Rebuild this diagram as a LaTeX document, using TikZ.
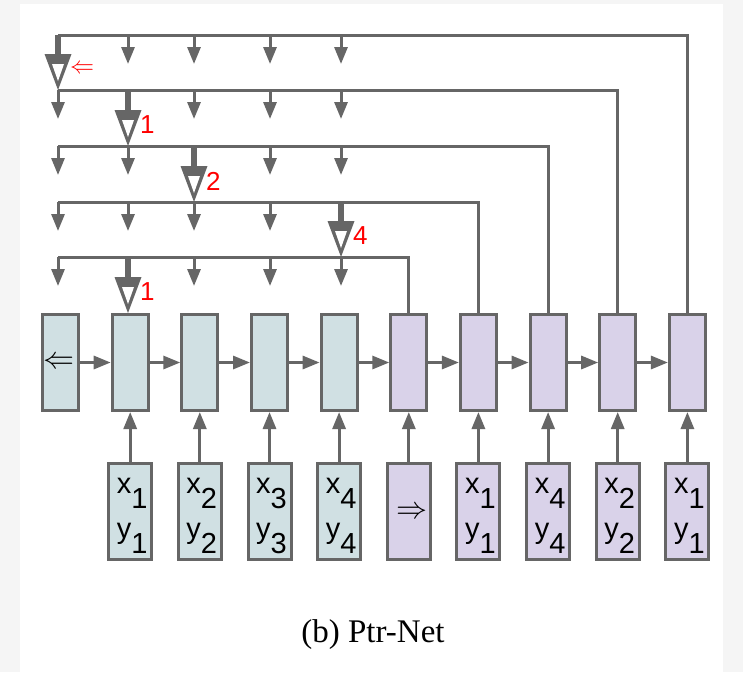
\RequirePackage{fix-cm}
\documentclass[tikz,border=0pt]{standalone}
\usepackage{fontspec}
\setmainfont{Liberation Serif}
\setsansfont{Liberation Sans}
\usetikzlibrary{arrows.meta,calc}

\definecolor{lgray}{HTML}{666666}
\definecolor{encfill}{HTML}{D0E0E3}
\definecolor{decfill}{HTML}{D9D2E9}
\definecolor{bggray}{HTML}{F5F5F5}

% lowered index digit, same size as the letter
\newcommand{\lowered}[1]{\raisebox{-15pt}{#1}}

% thick pointer arrow with a hollow head:
% #1 start coordinate, #2 x, #3 y of the tip, #4 label, #5 label node name
\newcommand{\bigptr}[5]{%
  \draw[line width=6pt, draw=lgray] (#1) -- (#2,{#3-33});
  \fill[lgray] ({#2-13.5},{#3-36}) -- ({#2+13.5},{#3-36}) -- (#2,#3) -- cycle;
  \fill[white] ({#2-6},{#3-26}) -- ({#2+6},{#3-26}) -- (#2,{#3-9}) -- cycle;
  \node[ptrlbl] (#5) at ({#2+12},{#3-21}) {#4};
}

\begin{document}
\begin{tikzpicture}[x=1pt,y=-1pt,
  cell/.style={draw=lgray, line width=3pt, minimum width=36pt, minimum height=96pt, inner sep=0pt},
  enccell/.style={cell, fill=encfill},
  deccell/.style={cell, fill=decfill},
  incell/.style={draw=lgray, line width=3pt, minimum width=43pt, minimum height=96pt, inner sep=0pt},
  encin/.style={incell, fill=encfill},
  decin/.style={incell, fill=decfill},
  wire/.style={draw=lgray, line width=3pt},
  tipped/.style={wire, -{Triangle[length=17pt,width=13pt]}},
  ptrlbl/.style={anchor=west, text=red, font=\sffamily\fontsize{26}{30}\selectfont, inner sep=0pt},
  xylbl/.style={anchor=base, font=\sffamily\fontsize{29}{34}\selectfont, inner sep=0pt},
  glyph/.style={font=\fontsize{31}{36}\selectfont, inner sep=0pt}
]
\useasboundingbox (0,0) rectangle (743,672);
\fill[bggray] (0,0) rectangle (743,672);
\fill[white] (20,4) rectangle (723,672);

% recurrent cells
\node[enccell] (h0) at (60.5,362.5) {};
\node[enccell] (h1) at (130.2,362.5) {};
\node[enccell] (h2) at (199.8,362.5) {};
\node[enccell] (h3) at (269.5,362.5) {};
\node[enccell] (h4) at (339.1,362.5) {};
\node[deccell] (h5) at (408.8,362.5) {};
\node[deccell] (h6) at (478.4,362.5) {};
\node[deccell] (h7) at (548.1,362.5) {};
\node[deccell] (h8) at (617.7,362.5) {};
\node[deccell] (h9) at (687.4,362.5) {};
\node[glyph] (startsym) at ($(h0.center)+(-2,0)$) {$\Leftarrow$};

% input cells
\node[encin] (in1) at (130.2,511.5) {};
\node[encin] (in2) at (199.8,511.5) {};
\node[encin] (in3) at (269.5,511.5) {};
\node[encin] (in4) at (339.1,511.5) {};
\node[decin] (in5) at (408.8,511.5) {};
\node[decin] (in6) at (478.4,511.5) {};
\node[decin] (in7) at (548.1,511.5) {};
\node[decin] (in8) at (617.7,511.5) {};
\node[decin] (in9) at (687.4,511.5) {};
\node[glyph] (gosym) at ($(in5.center)+(3,1)$) {$\Rightarrow$};

% coordinates of the inputs
\foreach \i/\k in {1/1,2/2,3/3,4/4,6/1,7/4,8/2,9/1} {
  \node[xylbl] (px\i) at ($(in\i.center)+(2,-18.5)$) {x\lowered{\k}};
  \node[xylbl] (py\i) at ($(in\i.center)+(2,26.5)$) {y\lowered{\k}};
}

% chain and input connectors
\foreach \i [evaluate=\i as \j using int(\i+1)] in {0,...,8}
  \draw[tipped] (h\i.east) -- (h\j.west);
\foreach \i in {1,...,9}
  \draw[tipped] (in\i.north) -- (h\i.south);

% attention rows
\foreach \r/\y in {0/35,1/90,2/146,3/202,4/257} {
  \foreach \c/\x in {0/58,1/128,2/194,3/270,4/341} {
    \coordinate (a\r\c) at (\x,\y);
    \coordinate (b\r\c) at (\x,{\y+29});
  }
}
\draw[wire] (a00) -| (h9.north);
\draw[wire] (a10) -| (h8.north);
\draw[wire] (a20) -| (h7.north);
\draw[wire] (a30) -| (h6.north);
\draw[wire] (a40) -| (h5.north);

\foreach \r/\big in {0/0,1/1,2/2,3/4,4/1} {
  \foreach \c in {0,...,4} {
    \ifnum\c=\big\relax\else
      \draw[tipped] (a\r\c) -- (b\r\c);
    \fi
  }
}

% selected pointers
\bigptr{a00}{58}{90}{\fontsize{24}{28}\selectfont$\Leftarrow$}{p0}
\bigptr{a11}{128}{146}{1}{p1}
\bigptr{a22}{194}{202}{2}{p2}
\bigptr{a34}{341}{257}{4}{p3}
\bigptr{a41}{128}{313}{1}{p4}

\node[font=\rmfamily\fontsize{33}{38}\selectfont] (cap) at (373,635) {(b) Ptr-Net};
\end{tikzpicture}
\end{document}
